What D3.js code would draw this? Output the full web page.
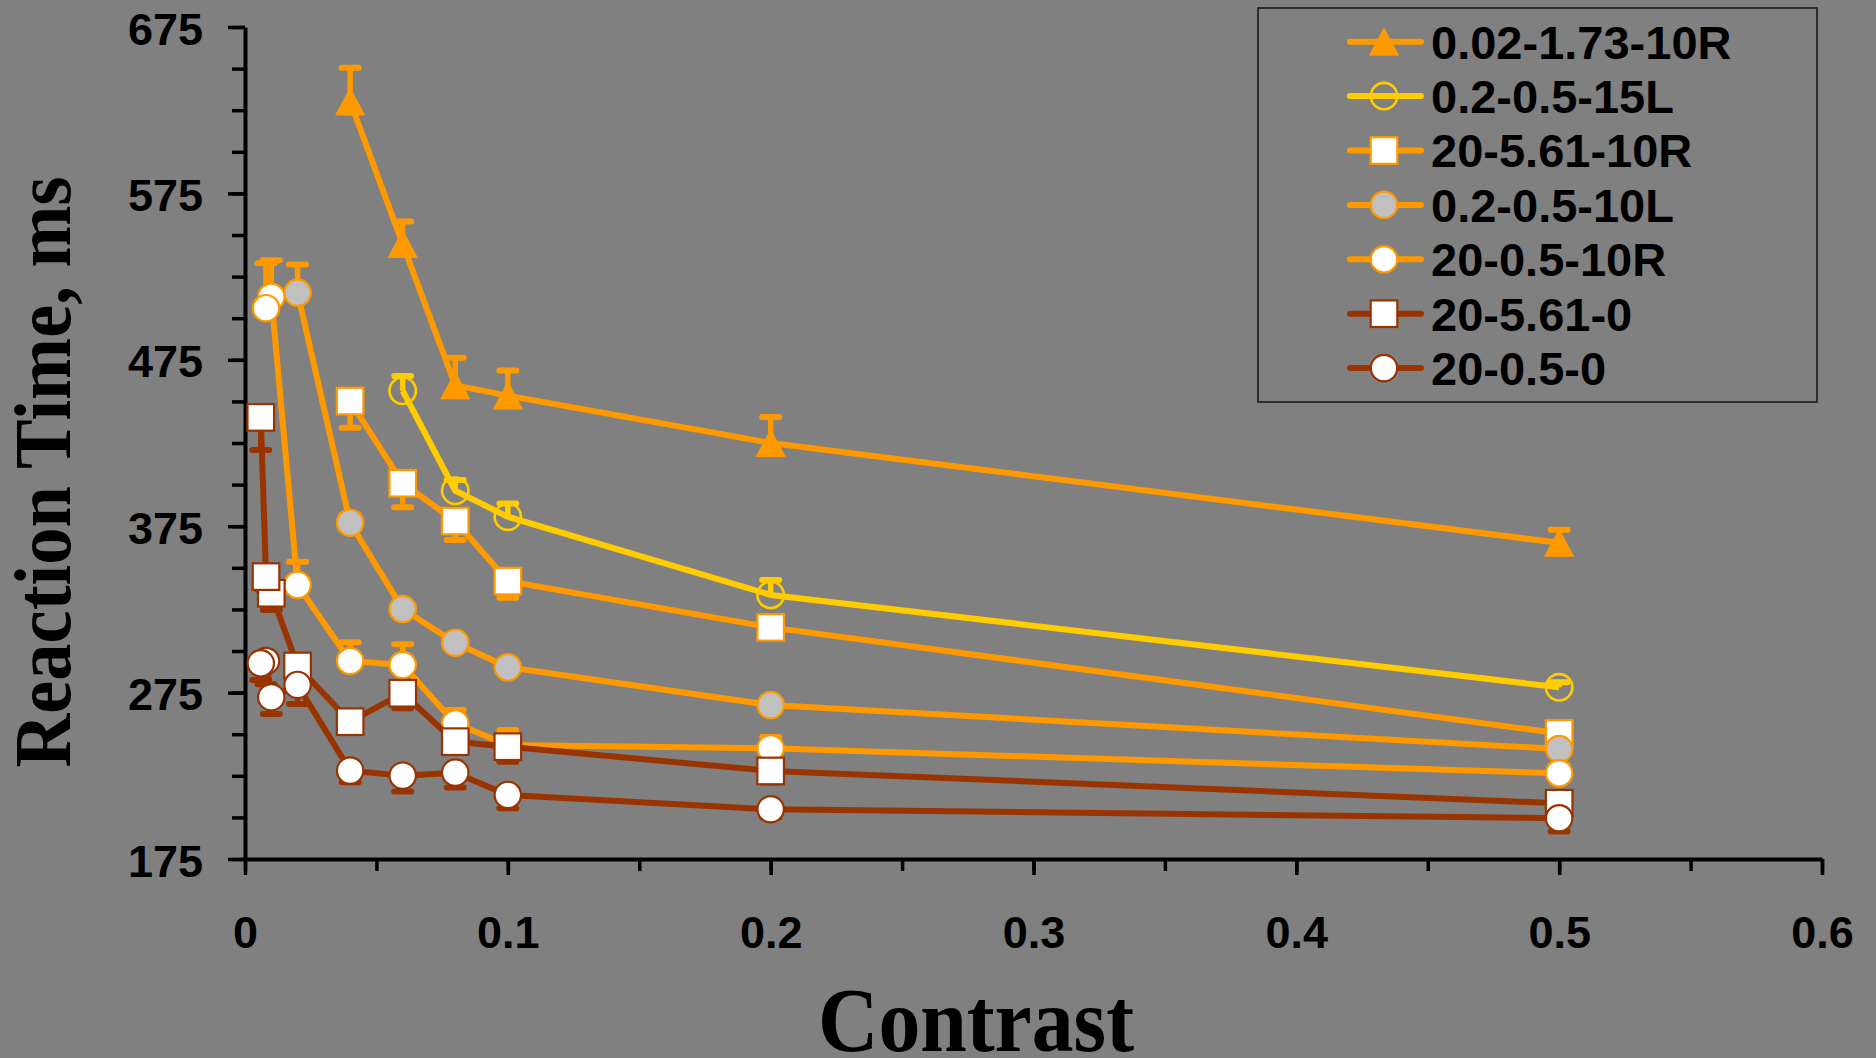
<!DOCTYPE html>
<html>
<head>
<meta charset="utf-8">
<script src="https://cdn.jsdelivr.net/npm/d3@7"></script>
<style>
  body { margin: 0; background: #808080; }
  svg { display: block; }
</style>
</head>
<body>
<div id="graf"></div>
<script>
// Reaction time vs contrast, 7 conditions

// series names (legend order)
const seriesNames = ['0.02-1.73-10R', '0.2-0.5-15L', '20-5.61-10R', '0.2-0.5-10L', '20-0.5-10R', '20-5.61-0', '20-0.5-0']

// contrast, reaction time (ms) and error bar (ms) per series
const contrast1 = [0.04, 0.06, 0.08, 0.1, 0.2, 0.5]
const rt1       = [630.2, 544.6, 459.6, 453.5, 425.0, 365.0]
const err1      = [20.3, 13.5, 16.7, 15.0, 15.6, 7.8]

const contrast2 = [0.06, 0.08, 0.1, 0.2, 0.5]
const rt2       = [456.4, 396.3, 380.7, 333.7, 278.2]
const err2      = [8.8, 6.4, 8.0, 9.0, 3.0]

const contrast3 = [0.04, 0.06, 0.08, 0.1, 0.2, 0.5]
const rt3       = [450.2, 400.8, 378.1, 342.0, 314.2, 250.5]
const err3      = [16.0, 14.4, 11.4, 10.0, 6.0, 5.0]

const contrast4 = [0.02, 0.04, 0.06, 0.08, 0.1, 0.2, 0.5]
const rt4       = [515.3, 377.1, 325.2, 305.0, 290.2, 267.5, 241.1]
const err4      = [17.0, 5.0, 4.0, 4.0, 4.0, 4.0, 4.0]

const contrast5 = [0.008, 0.01, 0.02, 0.04, 0.06, 0.08, 0.1, 0.2, 0.5]
const rt5       = [506.0, 512.9, 339.7, 294.0, 291.6, 256.5, 243.5, 241.5, 226.5]
const err5      = [27.0, 22.0, 14.0, 11.2, 12.4, 8.0, 9.0, 6.8, 5.0]

const contrast6 = [0.006, 0.008, 0.01, 0.02, 0.04, 0.06, 0.08, 0.1, 0.2, 0.5]
const rt6       = [440.4, 344.7, 334.7, 291.0, 257.5, 274.6, 245.5, 242.5, 227.9, 208.5]
const err6      = [19.6, 8.0, 10.0, 8.0, 6.0, 9.0, 6.0, 9.0, 7.0, 5.0]

const contrast7 = [0.006, 0.008, 0.01, 0.02, 0.04, 0.06, 0.08, 0.1, 0.2, 0.5]
const rt7       = [292.6, 294.0, 272.2, 279.6, 228.1, 225.1, 226.9, 213.5, 204.9, 199.5]
const err7      = [10.0, 14.0, 10.0, 11.4, 7.0, 9.6, 9.0, 8.0, 5.0, 8.0]

// error bar direction: +1 up, -1 down
const errDir = [1, 1, -1, 1, 1, -1, -1]

// axis ticks
const yMajor = [175, 275, 375, 475, 575, 675]
const yMinor = d3.range(175, 676, 25)
const xMajor = [0, 0.1, 0.2, 0.3, 0.4, 0.5, 0.6]
const xMinor = d3.range(0, 0.601, 0.05)

// estilos de cada serie
const ORANGE = '#FF9900', YELLOW = '#FFCC00', RUST = '#993300'
const styles = [
  { line: ORANGE, marker: 'tri',    fill: ORANGE,    stroke: ORANGE },
  { line: YELLOW, marker: 'circle', fill: 'none',    stroke: YELLOW },
  { line: ORANGE, marker: 'square', fill: '#FFFFFF', stroke: ORANGE },
  { line: ORANGE, marker: 'circle', fill: '#C0C0C0', stroke: ORANGE },
  { line: ORANGE, marker: 'circle', fill: '#FFFFFF', stroke: ORANGE },
  { line: RUST,   marker: 'square', fill: '#FFFFFF', stroke: RUST },
  { line: RUST,   marker: 'circle', fill: '#FFFFFF', stroke: RUST }
]

const contrasts = [contrast1, contrast2, contrast3, contrast4, contrast5, contrast6, contrast7]
const rts       = [rt1, rt2, rt3, rt4, rt5, rt6, rt7]
const errs      = [err1, err2, err3, err4, err5, err6, err7]

const series = seriesNames.map((name, i) => ({
  name: name,
  dir: errDir[i],
  style: styles[i],
  points: contrasts[i].map((c, j) => ({ c: c, v: rts[i][j], e: errs[i][j] }))
}))

// medidas
const W = 1876, H = 1058
const plot = { left: 245, right: 1822, top: 27, bottom: 859 }

const svg = d3.select('#graf').append('svg')
  .attr('width', W)
  .attr('height', H)

svg.append('rect')
  .attr('width', W).attr('height', H)
  .attr('fill', '#808080')

// escaladores
const x = d3.scaleLinear().domain([0, 0.6]).range([plot.left, plot.right])
const y = d3.scaleLinear().domain([175, 675]).range([plot.bottom, plot.top])

const tickFont = "'Liberation Sans', Arial, sans-serif"

// minor ticks first (no labels)
svg.append('g')
  .attr('transform', `translate(${plot.left},0)`)
  .call(d3.axisLeft(y).tickValues(yMinor).tickSize(13).tickSizeOuter(0).tickFormat(''))
  .call(g => g.select('.domain').remove())
  .call(g => g.selectAll('line').attr('stroke', '#000').attr('stroke-width', 3.5))

svg.append('g')
  .attr('transform', `translate(0,${plot.bottom})`)
  .call(d3.axisBottom(x).tickValues(xMinor).tickSize(12).tickSizeOuter(0).tickFormat(''))
  .call(g => g.select('.domain').remove())
  .call(g => g.selectAll('line').attr('stroke', '#000').attr('stroke-width', 3.5))

// major ticks + labels
const yAxisG = svg.append('g')
  .attr('transform', `translate(${plot.left},0)`)
  .call(d3.axisLeft(y).tickValues(yMajor).tickSize(17).tickSizeOuter(0).tickPadding(25))
yAxisG.select('.domain').attr('stroke', '#000').attr('stroke-width', 4)
yAxisG.selectAll('line').attr('stroke', '#000').attr('stroke-width', 3.5)
yAxisG.selectAll('text')
  .attr('font-family', tickFont).attr('font-weight', 'bold').attr('font-size', 45)
  .attr('fill', '#000').attr('dy', '0.38em')

const xAxisG = svg.append('g')
  .attr('transform', `translate(0,${plot.bottom})`)
  .call(d3.axisBottom(x).tickValues(xMajor).tickSize(16).tickSizeOuter(0).tickPadding(41)
    .tickFormat(d => d === 0 ? '0' : d3.format('.1f')(d)))
xAxisG.select('.domain').attr('stroke', '#000').attr('stroke-width', 4)
xAxisG.selectAll('line').attr('stroke', '#000').attr('stroke-width', 3.5)
xAxisG.selectAll('text')
  .attr('font-family', tickFont).attr('font-weight', 'bold').attr('font-size', 45)
  .attr('fill', '#000')

// titulos de ejes
const titleFont = "'Liberation Serif', 'Times New Roman', serif"
svg.append('text')
  .attr('x', 976).attr('y', 1051)
  .attr('text-anchor', 'middle')
  .attr('font-family', titleFont).attr('font-weight', 'bold').attr('font-size', 90)
  .attr('textLength', 316).attr('lengthAdjust', 'spacingAndGlyphs')
  .text('Contrast')

svg.append('text')
  .attr('transform', 'translate(70,472) rotate(-90)')
  .attr('text-anchor', 'middle')
  .attr('font-family', titleFont).attr('font-weight', 'bold').attr('font-size', 80)
  .attr('textLength', 591).attr('lengthAdjust', 'spacingAndGlyphs')
  .text('Reaction Time, ms')

// marcadores
function drawMarker(sel, st) {
  if (st.marker === 'circle') {
    sel.append('circle').attr('r', 13.2)
      .attr('fill', st.fill).attr('stroke', st.stroke)
      .attr('stroke-width', st.fill === 'none' ? 2.6 : 2.2)
  } else if (st.marker === 'square') {
    sel.append('rect').attr('x', -13.3).attr('y', -13.3).attr('width', 26.6).attr('height', 26.6)
      .attr('fill', st.fill).attr('stroke', st.stroke).attr('stroke-width', 2.2)
  } else {
    sel.append('path').attr('d', 'M0,-13.5L14.5,13.5L-14.5,13.5Z')
      .attr('fill', st.fill).attr('stroke', st.stroke).attr('stroke-width', 1)
  }
}

const line = d3.line()
  .x(d => x(d.c))
  .y(d => y(d.v))

series.forEach(s => {
  const g = svg.append('g')

  g.append('path')
    .datum(s.points)
    .attr('d', line)
    .attr('fill', 'none')
    .attr('stroke', s.style.line)
    .attr('stroke-width', 6)
    .attr('stroke-linejoin', 'round')

  // barras de error
  const eb = g.selectAll('g.err')
    .data(s.points)
    .enter().append('g')
    .attr('class', 'err')
  eb.append('line')
    .attr('x1', d => x(d.c)).attr('x2', d => x(d.c))
    .attr('y1', d => y(d.v)).attr('y2', d => y(d.v + s.dir * d.e))
    .attr('stroke', s.style.line).attr('stroke-width', 5.5)
  eb.append('line')
    .attr('x1', d => x(d.c) - 8.5).attr('x2', d => x(d.c) + 8.5)
    .attr('y1', d => y(d.v + s.dir * d.e)).attr('y2', d => y(d.v + s.dir * d.e))
    .attr('stroke', s.style.line).attr('stroke-width', 6)
    .attr('stroke-linecap', 'round')

  // markers drawn from high contrast to low (low contrast ends on top)
  g.selectAll('g.mk')
    .data(s.points.slice().reverse())
    .enter().append('g')
    .attr('class', 'mk')
    .attr('transform', d => `translate(${x(d.c)},${y(d.v)})`)
    .each(function () { drawMarker(d3.select(this), s.style) })
})

// Leyenda
const legend = svg.append('g')
legend.append('rect')
  .attr('x', 1258).attr('y', 8)
  .attr('width', 559).attr('height', 394)
  .attr('fill', 'none').attr('stroke', '#1a1a1a').attr('stroke-width', 1.6)

series.forEach((s, i) => {
  const cy = 41.7 + i * 54.4
  legend.append('line')
    .attr('x1', 1350).attr('x2', 1421)
    .attr('y1', cy).attr('y2', cy)
    .attr('stroke', s.style.line).attr('stroke-width', 6)
    .attr('stroke-linecap', 'round')
  legend.append('g')
    .attr('transform', `translate(1384,${cy})`)
    .call(sel => drawMarker(sel, s.style))
  legend.append('text')
    .attr('x', 1431).attr('y', cy + 16.8)
    .attr('font-family', tickFont).attr('font-weight', 'bold').attr('font-size', 47)
    .attr('fill', '#000')
    .text(s.name)
})
</script>
</body>
</html>
